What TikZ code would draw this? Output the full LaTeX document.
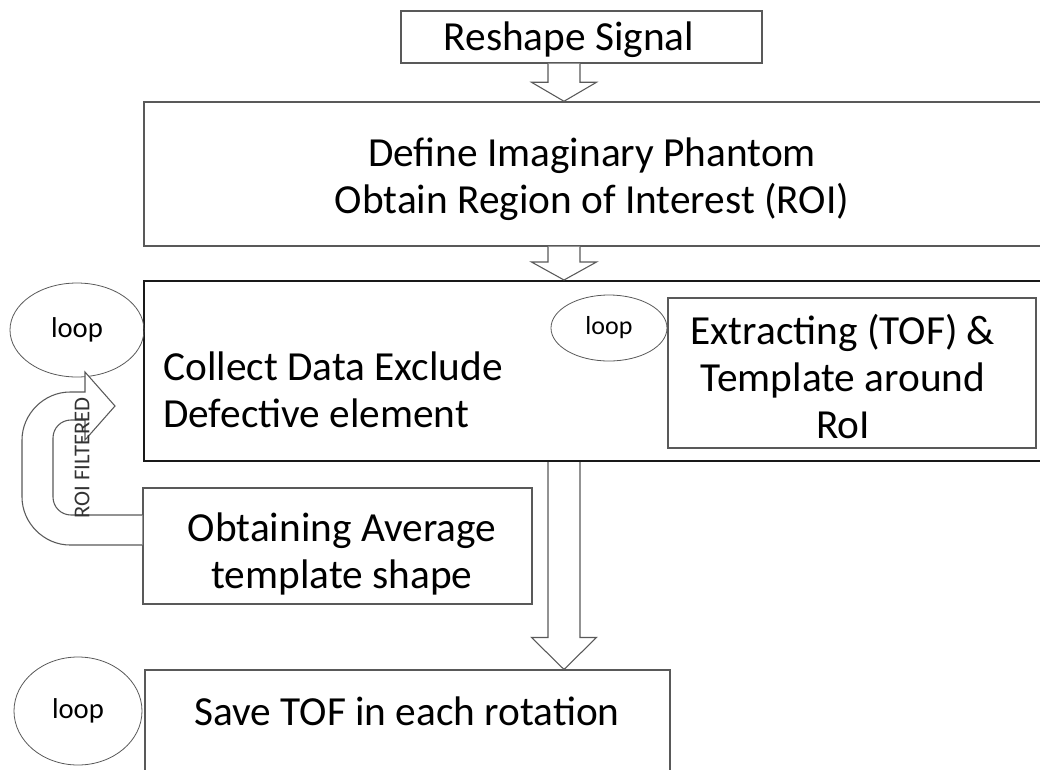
\documentclass[tikz,border=0pt]{standalone}
\usepackage{fontspec}
\setmainfont{Carlito}
\usetikzlibrary{fit,calc,shapes.geometric}
\definecolor{edgegray}{gray}{0.35}
\begin{document}
\begin{tikzpicture}[x=0.75pt,y=-0.75pt,
  box/.style={draw=edgegray, line width=0.8pt, fill=white, inner sep=0pt},
  heavybox/.style={draw=black!90, line width=1.5pt, fill=white, inner sep=0pt},
  bigtext/.style={font=\fontsize{31}{35}\selectfont, inner sep=0pt, anchor=base},
  looptext/.style={font=\fontsize{21.5}{24}\selectfont},
  loopshape/.style={draw=edgegray, line width=0.6pt, ellipse, inner sep=0pt},
  blockarrow/.style={draw=edgegray, line width=0.8pt, fill=white, line join=miter}]
\useasboundingbox (0,0) rectangle (1040,769);
\clip (0,0) rectangle (1040,769);

% process boxes
\node[box, fit={(401,11) (762,63)}] (reshape) {};
\node[box, line width=1.1pt, fit={(144,102) (1060,246)}] (define) {};
\node[heavybox, fit={(144,281) (1060,461)}] (collect) {};
\node[box, fit={(668,298) (1036,448)}] (extract) {};
\node[box, fit={(143,488) (532,604)}] (obtain) {};
\node[box, fit={(145,670) (670,800)}] (save) {};

% box texts (multi-line nodes are placed by the baseline of their last line)
\node[bigtext] (reshapeT) at (569,50) {Reshape Signal};
\node[bigtext, align=center] (defineT) at (592,213) {Define Imaginary Phantom\\Obtain Region of Interest (ROI)};
\node[bigtext, align=left, anchor=base west] (collectT) at (163,427) {Collect Data Exclude\\Defective element};
\node[bigtext, align=center] (extractT) at (843,438) {Extracting (TOF) \&\\Template around\\RoI};
\node[bigtext, align=center] (obtainT) at (342,588) {Obtaining Average\\template shape};
\node[bigtext] (saveT) at (407,725) {Save TOF in each rotation};

% loop markers
\node[loopshape, minimum width=134*0.75pt, minimum height=94*0.75pt, looptext] (loopA) at (77,330) {loop};
\node[loopshape, minimum width=116*0.75pt, minimum height=66*0.75pt, font=\fontsize{19.5}{22}\selectfont] (loopB) at (609,328) {loop};
\node[loopshape, minimum width=128*0.75pt, minimum height=108*0.75pt, looptext] (loopC) at (78,711) {loop};

% block arrows down the main flow
\coordinate (ax) at (564,0);
\newcommand\flowarrow[3]{%
  \coordinate (s) at (ax |- #1.south);
  \coordinate (e) at (ax |- #2.north);
  \filldraw[blockarrow] ($(s)+(-16,0)$) -- ($(e)+(-16,-#3)$) -- ($(e)+(-32.5,-#3)$)
     -- (e) -- ($(e)+(32.5,-#3)$) -- ($(e)+(16,-#3)$) -- ($(s)+(16,0)$);}
\flowarrow{reshape}{define}{19}
\flowarrow{define}{collect}{18}
\flowarrow{collect}{save}{32}

% U-turn feedback arrow from the averaging step
\coordinate (uo) at ($(obtain.west)+(0,-1)$);
\coordinate (ui) at ($(obtain.west)+(0,-31)$);
\filldraw[blockarrow] (uo) -- (70,545) .. controls (44,545) and (22,523) .. (22,497)
  -- (22,440) .. controls (22,414) and (44,392) .. (70,392) -- (85,392) -- (85,372)
  -- (115,406) -- (85,440) -- (85,420) -- (71,420) .. controls (61,420) and (53,428) .. (53,438)
  -- (53,497) .. controls (53,507) and (61,515) .. (71,515) -- (ui);
\node[rotate=90, font=\fontsize{17}{19}\selectfont, text=black!80, inner sep=0pt] (roiT) at (82,458) {ROI FILTERED};
\end{tikzpicture}
\end{document}
